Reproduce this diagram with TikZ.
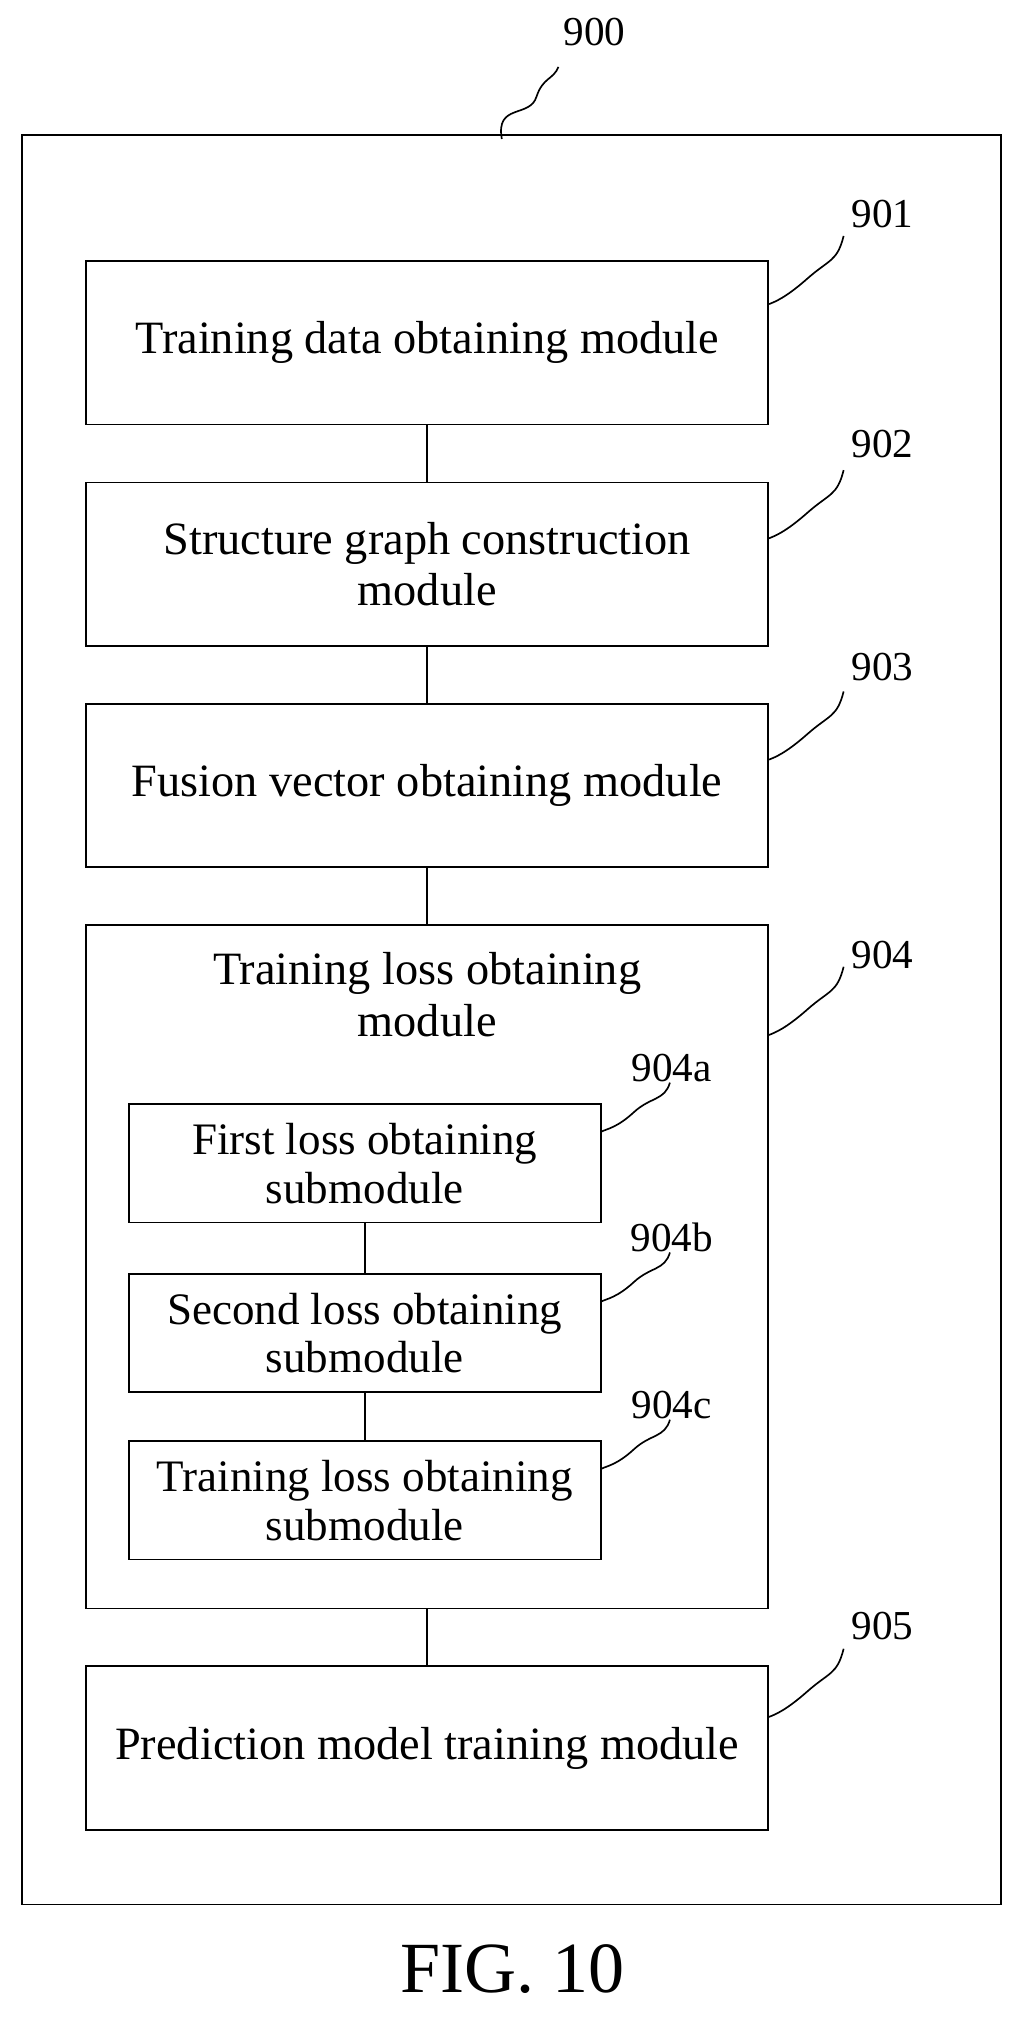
\documentclass[tikz,border=0pt]{standalone}
\usepackage{fontspec}
\setmainfont{Liberation Serif}
\usetikzlibrary{positioning}

\begin{document}
\begin{tikzpicture}[x=1pt,y=-1pt,
    box/.style={draw, line width=1.3pt, minimum width=530pt, minimum height=127pt, align=center, font=\fontsize{36}{40}\selectfont},
    sub/.style={draw, line width=1.3pt, minimum width=367pt, minimum height=92pt, align=center, font=\fontsize{35}{38}\selectfont},
    num/.style={font=\fontsize{32}{36}\selectfont},
    lead/.style={line width=1.3pt},
    link/.style={line width=1.3pt}
]
    \useasboundingbox (0,0) rectangle (800,1580);
    \node[draw, line width=1.3pt, minimum width=761pt, minimum height=1375pt] (frame) at (397.5,792.5) {};
    \node[num] (n900) at (462,25) {900};
    \draw[lead] (390,108) .. controls (385,80) and (412,92) .. (417,75) .. controls (422,60) and (430,62) .. (434,52);

    \node[box] (tdo) at (332,266.5) {Training data obtaining module};
    \node[box] (sgc) at (332,438.5) {Structure graph construction\\module};
    \node[box] (fvo) at (332,610.5) {Fusion vector obtaining module};
    \node[box, minimum height=531pt] (tlo) at (332,984.5) {};
    \node[font=\fontsize{36}{40}\selectfont, align=center] (tlot) at (332,773) {Training loss obtaining\\module};
    \node[sub] (flo) at (283.5,904) {First loss obtaining\\submodule};
    \node[sub] (slo) at (283.5,1036) {Second loss obtaining\\submodule};
    \node[sub] (tls) at (283.5,1166) {Training loss obtaining\\submodule};
    \node[box] (pmt) at (332,1358.5) {Prediction model training module};
    \node[font=\fontsize{56}{60}\selectfont] (fig) at (398,1530) {FIG. 10};

    % module labels
    \foreach \b/\t/\y/\d in {tdo/901/166/34, sgc/902/345/44, fvo/903/518/44, tlo/904/742/86, pmt/905/1264/40} {
        \node[num] at (686,\y) {\t};
        \coordinate (e) at ([yshift=-\d pt]\b.north east);
        \draw[lead] (e) .. controls ++(5,-2) and ++(-17,15) .. ++(30,-20) .. controls ++(17,-15) and ++(-5,20) .. ++(28,-33);
    }
    \foreach \b/\t/\y in {flo/904a/830, slo/904b/962, tls/904c/1092} {
        \node[num] at (522,\y) {\t};
        \coordinate (e) at ([yshift=-22pt]\b.north east);
        \draw[lead] (e) .. controls ++(4,-2) and ++(-13,12) .. ++(25,-15) .. controls ++(13,-12) and ++(-4,14) .. ++(28,-23);
    }

    \draw[link] (tdo) -- (sgc);
    \draw[link] (sgc) -- (fvo);
    \draw[link] (fvo) -- (tlo);
    \draw[link] (tlo) -- (pmt);
    \draw[link] (flo) -- (slo);
    \draw[link] (slo) -- (tls);
\end{tikzpicture}
\end{document}
